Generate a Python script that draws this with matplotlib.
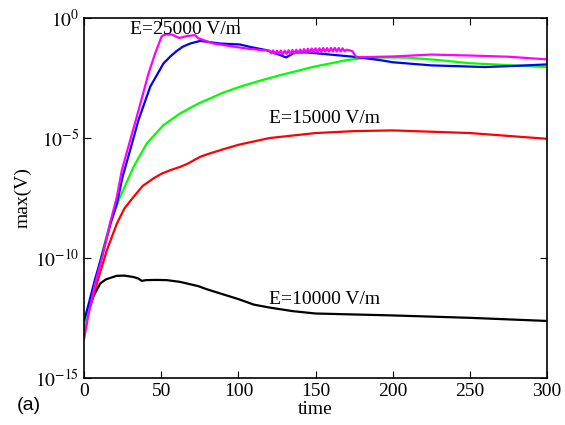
import matplotlib
matplotlib.use('Agg')
import matplotlib.pyplot as plt
import numpy as np

# ── Data (log10 of max(V)) ─────────────────────────────────────────────────────
t_black = [0, 3, 6, 10.4, 14, 21, 26, 32, 35, 37.4, 40, 47, 53.6, 62, 74, 80, 90,
           100, 110, 120, 135, 150, 200, 250, 300]
v_black = [-13.0, -12.2, -11.6, -11.07, -10.9, -10.75, -10.74, -10.8, -10.86, -10.96,
           -10.93, -10.92, -10.93, -11.0, -11.18, -11.32, -11.52, -11.72, -11.95,
           -12.07, -12.22, -12.32, -12.4, -12.5, -12.63]

t_red = [0, 3, 8.2, 14.7, 21.2, 26, 32, 38, 44.9, 50, 55.7, 62.2, 67, 75.2, 80, 90,
         100, 120, 150, 175, 200, 250, 300]
v_red = [-13.0, -12.2, -11.07, -9.68, -8.57, -7.95, -7.46, -7.0, -6.69, -6.5, -6.35,
         -6.21, -6.08, -5.79, -5.68, -5.48, -5.29, -5.01, -4.8, -4.72, -4.69, -4.8,
         -5.04]

t_green = [0, 3, 8, 12, 16.8, 23.3, 32, 40.6, 51.4, 62.2, 74.1, 90, 101, 115, 127,
           148.6, 170.2, 183, 200, 210, 230, 250, 300]
v_green = [-12.9, -12.1, -10.8, -9.7, -8.56, -7.46, -6.21, -5.23, -4.47, -3.98, -3.57,
           -3.12, -2.87, -2.6, -2.39, -2.04, -1.76, -1.66, -1.65, -1.66, -1.76, -1.89,
           -2.05]

t_blue = [0, 3, 7, 12.5, 17, 21.2, 25, 29.8, 35.2, 42.8, 51.4, 56, 60, 64, 68.7, 75.2,
          88.1, 101, 107.5, 118.4, 127, 130.9, 136.7, 144.3, 159.4, 174.5, 191.8, 200,
          225, 260, 280, 300]
v_blue = [-12.6, -11.9, -10.9, -9.68, -8.6, -7.73, -6.6, -5.51, -4.26, -2.87, -1.9,
          -1.6, -1.38, -1.2, -1.07, -0.96, -1.07, -1.11, -1.21, -1.35, -1.55, -1.65,
          -1.44, -1.44, -1.53, -1.62, -1.76, -1.85, -1.98, -2.05, -2.0, -1.94]

t_magenta = [0, 3, 7, 12, 17, 21.2, 24.4, 29.8, 34.1, 41.7, 46, 50.3, 53.1, 57, 60,
             61.7, 66.5, 71.9, 74, 83.8, 95, 105.4, 116.2,
             120, 121.25, 122.5, 123.75, 125, 126.25, 127.5, 128.75, 130, 131.25,
             132.5, 133.75, 135, 136.25, 137.5, 138.75, 140, 141.25, 142.5, 143.75,
             145, 146.25, 147.5, 148.75, 150, 151.25, 152.5, 153.75, 155, 156.25,
             157.5, 158.75, 160, 161.25, 162.5, 163.75, 165, 166.25, 167.5, 168.75,
             170, 172, 174, 176.2, 180, 191.8, 200, 225, 250, 275, 300]
v_magenta = [-13.36, -12.3, -11.1, -9.9, -8.5, -7.46, -6.35, -5.1, -4.12, -2.32, -1.48,
             -0.76, -0.68, -0.7, -0.79, -0.84, -0.76, -0.72, -0.85, -1.07, -1.18, -1.28,
             -1.35,
             -1.36, -1.48, -1.36, -1.50, -1.37, -1.50, -1.36, -1.51, -1.37, -1.50,
             -1.35, -1.50, -1.34, -1.48, -1.33, -1.47, -1.32, -1.46, -1.30, -1.45,
             -1.29, -1.44, -1.28, -1.43, -1.27, -1.42, -1.27, -1.42, -1.26, -1.41,
             -1.26, -1.41, -1.25, -1.40, -1.25, -1.40, -1.26, -1.40, -1.27, -1.39,
             -1.33, -1.35, -1.40, -1.62, -1.64, -1.62, -1.61, -1.53, -1.57, -1.62,
             -1.73]

labels = ['E=25000 V/m', 'E=15000 V/m', 'E=10000 V/m']
label_pos = [(29.5, -0.5), (120, -4.2), (120, -11.75)]

x_ticks = [0, 50, 100, 150, 200, 250, 300]
y_ticks = [1e-15, 1e-10, 1e-5, 1e0]
y_ticklabels = [r'$10^{-15}$', r'$10^{-10}$', r'$10^{-5}$', r'$10^{0}$']

# ── Style ──────────────────────────────────────────────────────────────────────
plt.rcParams['font.family'] = ['Liberation Serif', 'DejaVu Serif']
plt.rcParams['mathtext.fontset'] = 'stix'
plt.rcParams['font.size'] = 14

fig = plt.figure(figsize=(5.65, 4.25), dpi=100)
ax = fig.add_axes([0.149, 0.111, 0.819, 0.847])

series = [
    (t_black, v_black, '#000000'),
    (t_red, v_red, '#FF0000'),
    (t_green, v_green, '#00FF00'),
    (t_blue, v_blue, '#0000FF'),
    (t_magenta, v_magenta, '#FF00FF'),
]
for t, v, c in series:
    ax.plot(t, 10.0 ** np.array(v), color=c, linewidth=1.6)

ax.set_yscale('log')
ax.set_xlim(0, 300)
ax.set_ylim(1e-15, 1e0)
ax.set_xticks(x_ticks)
ax.set_yticks(y_ticks)
ax.set_yticklabels(y_ticklabels)
ax.minorticks_off()
ax.tick_params(direction='in', top=True, right=True, length=5, width=0.8, labelsize=14)
for s in ax.spines.values():
    s.set_linewidth(1.2)

for txt, (x, y) in zip(labels, label_pos):
    ax.text(x, 10.0 ** y, txt, fontsize=14, ha='left', va='center')

ax.set_xlabel('time', fontsize=14, labelpad=1)
ax.set_ylabel('max(V)', fontsize=14, labelpad=2)
fig.text(0.03, 0.035, '(a)', fontsize=14, family='Liberation Sans')

fig.savefig('out.png', dpi=100)
